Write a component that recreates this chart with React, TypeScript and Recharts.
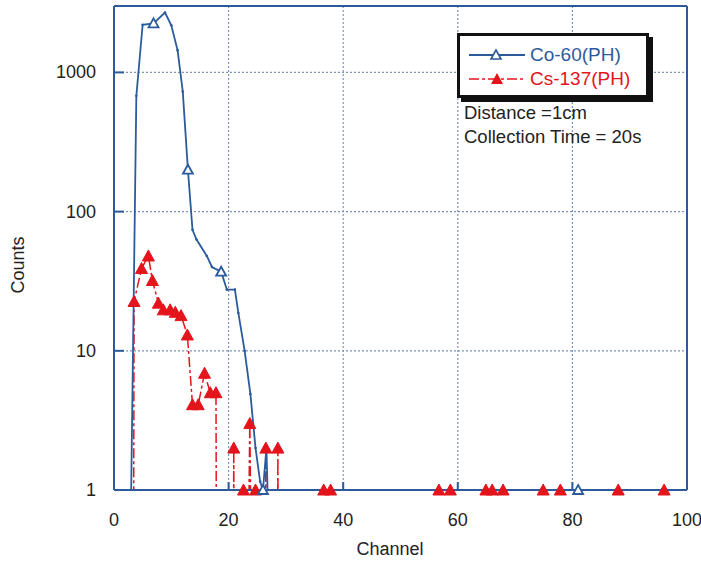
import React from 'react';
import { ComposedChart, Line, Scatter, XAxis, YAxis, CartesianGrid, ReferenceLine } from 'recharts';

// Co-60 pulse height spectrum (counts per channel)
const coChannel = [3.0, 3.9, 5.0, 6.9, 8.9, 10.0, 11.1, 12.0, 12.9, 13.7, 14.4, 16.2, 17.1, 18.7, 19.7, 21.1, 21.7, 22.8, 23.8, 24.7, 25.5, 26.0, 26.6, 26.8, 40, 60, 81, 100];
const coCounts = [1, 680, 2200, 2250, 2690, 2180, 1440, 730, 200, 74, 63, 48, 40, 37, 27.5, 27.5, 18.7, 10, 4.9, 2.0, 1.15, 1, 2, 1, 1, 1, 1, 1];
const coMarked = [6.9, 12.9, 18.7, 26.0, 81];

// Cs-137 pulse height spectrum, 0 = no counts (falls off the log axis)
const csChannel = [3.4, 3.5, 4.8, 6.0, 6.7, 7.75, 8.6, 9.8, 10.7, 11.7, 12.8, 13.7, 14.7, 15.8, 16.8, 17.8, 17.9, 20.8, 20.9, 21.0, 22.6, 23.3, 23.7, 24.1, 24.7, 26.4, 26.5, 26.6, 28.5, 28.6, 28.7, 36.6, 37.8, 56.7, 58.7, 64.9, 66.0, 67.9, 74.9, 77.9, 88.0, 96.0];
const csCounts = [0, 22.6, 39, 48, 32, 22, 19.7, 19.7, 18.9, 17.9, 13, 4.1, 4.1, 6.9, 5, 5, 0, 0, 2, 0, 1, 0, 3, 0, 1, 0, 2, 0, 0, 2, 0, 1, 1, 1, 1, 1, 1, 1, 1, 1, 1, 1];

const xTicks = [0, 20, 40, 60, 80, 100];
const yTicks = [1, 10, 100, 1000];

const FLOOR = 0.1;
const coData = coChannel.map((ch, i) => ({ ch, v: coCounts[i] }));
const coMarkers = coData.filter(d => coMarked.includes(d.ch));
const csData = csChannel.map((ch, i) => ({ ch, v: csCounts[i] > 0 ? csCounts[i] : FLOOR }));
const csMarkers = csData.filter(d => d.v >= 1);

const W = 701;
const H = 563;
const LEFT = 114;
const TOP = 6;
const RIGHT = 687;
const BOTTOM = 490;

const BLUE = '#2c5b9c';
const RED = '#e4141c';
const GRID = '#7d93bb';
const TEXT = '#222';
const FONT = '"Liberation Sans", Arial, sans-serif';

const YTick = (props: any) => {
  const { y, payload } = props;
  return (
    <g>
      <line x1={LEFT} x2={LEFT + 10} y1={y} y2={y} stroke={BLUE} strokeWidth={2} />
      <text x={LEFT - 18} y={y} dy={6} textAnchor="end" fontSize={18} fill={TEXT} fontFamily={FONT}>{payload.value}</text>
    </g>
  );
};

const XTick = (props: any) => {
  const { x, payload } = props;
  return (
    <g>
      {payload.value > 0 && payload.value < 100 && (
        <line x1={x} x2={x} y1={BOTTOM} y2={BOTTOM - 8} stroke={BLUE} strokeWidth={2} />
      )}
      <text x={x} y={BOTTOM + 36} textAnchor="middle" fontSize={18} fill={TEXT} fontFamily={FONT}>{payload.value}</text>
    </g>
  );
};

const OpenTriangle = (props: any) => {
  const { cx, cy } = props;
  if (cx == null || cy == null) return null;
  return <path d={`M${cx},${cy - 5} L${cx + 5},${cy + 4} L${cx - 5},${cy + 4} Z`} fill="#fff" stroke={BLUE} strokeWidth={1.8} />;
};

const FilledTriangle = (props: any) => {
  const { cx, cy } = props;
  if (cx == null || cy == null) return null;
  return <path d={`M${cx},${cy - 6} L${cx + 6},${cy + 5} L${cx - 6},${cy + 5} Z`} fill={RED} stroke={RED} strokeWidth={1} />;
};

const SmallDot = (props: any) => {
  const { cx, cy } = props;
  if (cx == null || cy == null) return null;
  return <circle cx={cx} cy={cy} r={1.3} fill={BLUE} />;
};

export default function App() {
  return (
    <div style={{ position: 'absolute', left: 0, top: 0, width: W, height: H, background: '#fff', fontFamily: FONT }}>
      <ComposedChart width={W} height={H} margin={{ top: TOP, right: W - RIGHT, bottom: 43, left: 54 }}>
        <CartesianGrid stroke={GRID} strokeDasharray="2 2" strokeWidth={1.2} />
        <XAxis
          dataKey="ch"
          type="number"
          domain={[0, 100]}
          ticks={xTicks}
          allowDataOverflow
          height={30}
          axisLine={{ stroke: BLUE, strokeWidth: 2 }}
          tickLine={false}
          tick={<XTick />}
          label={{ content: () => <text x={390} y={555} textAnchor="middle" fontSize={18} fill={TEXT} fontFamily={FONT}>Channel</text> }}
        />
        <YAxis
          dataKey="v"
          scale="log"
          domain={[1, 3000]}
          ticks={yTicks}
          allowDataOverflow
          width={60}
          axisLine={{ stroke: BLUE, strokeWidth: 2 }}
          tickLine={false}
          tick={<YTick />}
          label={{ content: () => <text x={24} y={265} transform="rotate(-90 24 265)" textAnchor="middle" fontSize={18} fill={TEXT} fontFamily={FONT}>Counts</text> }}
        />
        {/* unclipped twin axes for the markers */}
        <XAxis xAxisId="m" dataKey="ch" type="number" domain={[0, 100]} height={30} hide />
        <YAxis yAxisId="m" dataKey="v" scale="log" domain={[1, 3000]} width={60} hide />
        <ReferenceLine x={100} stroke={BLUE} strokeWidth={2} />
        <ReferenceLine y={3000} stroke={BLUE} strokeWidth={2} />
        <Line data={csData} dataKey="v" type="linear" stroke={RED} strokeWidth={1.5} strokeDasharray="10 3 3 3" dot={false} activeDot={false} isAnimationActive={false} />
        <Line data={coData} dataKey="v" type="linear" stroke={BLUE} strokeWidth={1.8} dot={<SmallDot />} activeDot={false} isAnimationActive={false} />
        <Scatter xAxisId="m" yAxisId="m" data={csMarkers} dataKey="v" shape={<FilledTriangle />} isAnimationActive={false} />
        <Scatter xAxisId="m" yAxisId="m" data={coMarkers} dataKey="v" shape={<OpenTriangle />} isAnimationActive={false} />
      </ComposedChart>
      <div style={{ position: 'absolute', left: 457, top: 33, width: 186, height: 59, border: '3px solid #111', boxShadow: '4px 4px 0 #111', background: '#fff' }}>
        <div style={{ position: 'absolute', left: 9, top: 9, display: 'flex', alignItems: 'center' }}>
          <svg width={56} height={14}>
            <line x1={0} x2={56} y1={7} y2={7} stroke={BLUE} strokeWidth={1.8} />
            <path d="M27,2 L32,11 L22,11 Z" fill="#fff" stroke={BLUE} strokeWidth={1.6} />
          </svg>
          <span style={{ marginLeft: 5, fontSize: 19, color: BLUE, lineHeight: '20px' }}>Co-60(PH)</span>
        </div>
        <div style={{ position: 'absolute', left: 9, top: 33, display: 'flex', alignItems: 'center' }}>
          <svg width={56} height={14}>
            <line x1={0} x2={56} y1={7} y2={7} stroke={RED} strokeWidth={1.5} strokeDasharray="10 3 3 3" />
            <path d="M28,1 L34,12 L22,12 Z" fill={RED} />
          </svg>
          <span style={{ marginLeft: 5, fontSize: 19, color: RED, lineHeight: '20px' }}>Cs-137(PH)</span>
        </div>
      </div>
      <div style={{ position: 'absolute', left: 464, top: 101, fontSize: 18.5, color: TEXT, lineHeight: '24px' }}>
        <div>Distance =1cm</div>
        <div>Collection Time = 20s</div>
      </div>
    </div>
  );
}
